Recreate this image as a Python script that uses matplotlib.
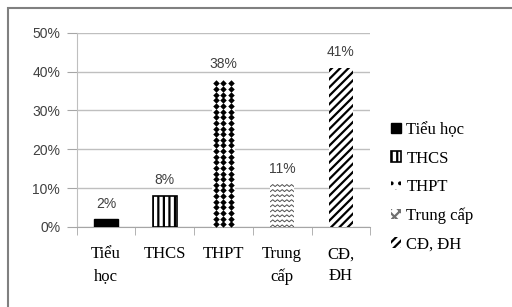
import numpy as np
import matplotlib.pyplot as plt
from matplotlib import font_manager as fm
from matplotlib.patches import Rectangle, Patch

# chart data
categories = ["Tiểu\nhọc", "THCS", "THPT", "Trung\ncấp", "CĐ,\nĐH"]
legend_labels = ["Tiểu học", "THCS", "THPT", "Trung cấp", "CĐ, ĐH"]
shares = [2, 8, 38, 11, 41]
y_ticks = [0, 10, 20, 30, 40, 50]

SANS = "Liberation Sans"
GREY_TXT = "#404040"
serif_path = fm.findfont("Liberation Serif")
serif12 = fm.FontProperties(fname=serif_path, size=12)

plt.rcParams["hatch.linewidth"] = 1.6

fig = plt.figure(figsize=(5.12, 3.07), dpi=100)
ax = fig.add_axes([0.150, 0.261, 0.573, 0.632])

x = np.arange(len(categories))
styles = [
    dict(facecolor="black", edgecolor="black"),
    dict(facecolor="white", edgecolor="black", hatch="|||", linewidth=1.2),
    dict(facecolor="white", edgecolor="white", linewidth=0),
    dict(facecolor="white", edgecolor="#606060", linewidth=0),
    dict(facecolor="white", edgecolor="black", hatch="////", linewidth=0),
]
bars = []
for i, (xi, v) in enumerate(zip(x, shares)):
    b = ax.bar(xi, v, width=0.4, zorder=3, **styles[i])[0]
    bars.append(b)
    ax.text(xi, v + 2.2, f"{v}%", ha="center", va="bottom",
            fontsize=10, family=SANS, color=GREY_TXT)

# diamond texture for the THPT bar, laid out from the bar geometry
db = bars[2]
x0, w, h = db.get_x(), db.get_width(), db.get_height()
cols = x0 + w * np.array([1 / 6, 3 / 6, 5 / 6])
rows = np.arange(0.7, h, 1.45)
gx, gy = np.meshgrid(cols, rows)
sc = ax.scatter(gx.ravel(), gy.ravel(), marker="D", s=11, color="black",
                linewidths=0, zorder=4)
sc.set_clip_path(db)

# zigzag fill for the "Trung cấp" bar, derived from the bar geometry
zb = bars[3]
x0, w, h = zb.get_x(), zb.get_width(), zb.get_height()
zx = np.linspace(x0, x0 + w, 11)
for y0 in np.arange(0, h + 1.3, 1.3):
    zy = y0 + 0.5 * (np.arange(11) % 2)
    ln, = ax.plot(zx, zy, color="#505050", lw=0.7, zorder=4)
    ln.set_clip_path(zb)

ax.set_ylim(0, 50)
ax.set_xlim(-0.5, len(categories) - 0.5)
ax.set_yticks(y_ticks)
ax.set_yticklabels([f"{t}%" for t in y_ticks], family=SANS, fontsize=10,
                   color=GREY_TXT)
ax.set_xticks(x)
ax.set_xticklabels(categories, fontproperties=serif12, linespacing=1.5)
ax.set_xticks(np.arange(-0.5, len(categories)), minor=True)
ax.tick_params(axis="x", which="major", length=0, pad=14)
ax.tick_params(axis="x", which="minor", length=6, color="#a6a6a6")
ax.tick_params(axis="y", length=7, color="#a6a6a6", pad=5)

ax.grid(axis="y", color="#bfbfbf", lw=1, zorder=0)
for s in ["top", "right"]:
    ax.spines[s].set_visible(False)
ax.spines["left"].set_color("#bfbfbf")
ax.spines["bottom"].set_color("#a6a6a6")

# legend keys
handles = [
    Patch(facecolor="black", edgecolor="black"),
    Patch(facecolor="white", edgecolor="black", hatch="|||", linewidth=1.2),
    Patch(facecolor="white", edgecolor="black", hatch="..", linewidth=0),
    Patch(facecolor="white", edgecolor="#707070", hatch="xxx", linewidth=0),
    Patch(facecolor="white", edgecolor="black", hatch="////", linewidth=0),
]
fig.legend(handles, legend_labels, loc="center left",
           bbox_to_anchor=(0.735, 0.39), frameon=False,
           prop=serif12, handlelength=0.6,
           handleheight=0.6, handletextpad=0.3, labelspacing=0.75)

# outer frame
fig.patches.append(Rectangle((8 / 512, -0.1), 1.2, 1.1 - 8 / 307,
                             transform=fig.transFigure, fill=False,
                             edgecolor="#808080", lw=1.5))

fig.savefig("out.png", dpi=100)
